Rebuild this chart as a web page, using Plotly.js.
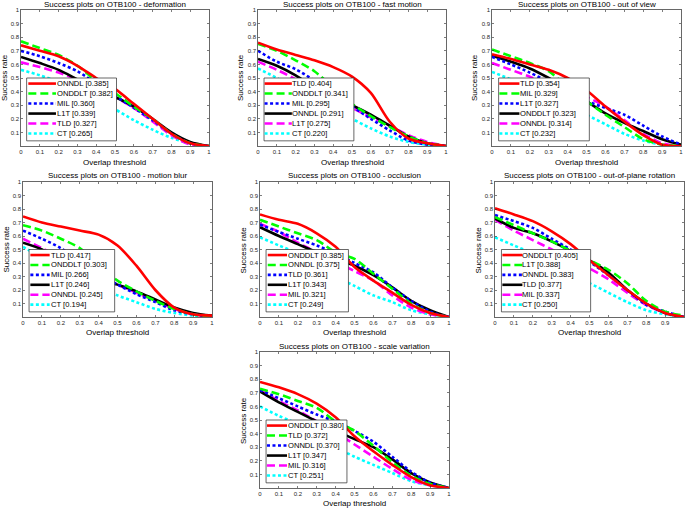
<!DOCTYPE html>
<html>
<head>
<meta charset="utf-8">
<script src="https://cdn.plot.ly/plotly-3.0.1.min.js"></script>
<style>
  html, body { margin: 0; padding: 0; background: #fff; }
  #chart { width: 685px; height: 509px; }
</style>
</head>
<body>
<div id="chart"></div>
<script>
// overlap thresholds (x axis of every panel)
const thresholds = [0, 0.1, 0.2, 0.3, 0.4, 0.5, 0.6, 0.7, 0.8, 0.9, 1];

// deformation
const defNames = ['ONNDL', 'ONDDLT', 'MIL', 'L1T', 'TLD', 'CT'];
const defScores = [0.385, 0.382, 0.360, 0.339, 0.327, 0.265];
const defRates = [
    [0.74, 0.70, 0.66, 0.59, 0.50, 0.42, 0.31, 0.20, 0.09, 0.02, 0.0],
    [0.77, 0.72, 0.67, 0.59, 0.48, 0.39, 0.29, 0.20, 0.09, 0.02, 0.0],
    [0.70, 0.66, 0.61, 0.55, 0.46, 0.37, 0.28, 0.19, 0.09, 0.02, 0.0],
    [0.655, 0.61, 0.56, 0.49, 0.42, 0.36, 0.29, 0.20, 0.10, 0.03, 0.0],
    [0.615, 0.58, 0.54, 0.49, 0.42, 0.36, 0.28, 0.18, 0.08, 0.01, 0.0],
    [0.56, 0.52, 0.47, 0.41, 0.33, 0.27, 0.19, 0.12, 0.06, 0.02, 0.0]
];

// fast motion
const fmNames = ['TLD', 'ONDDLT', 'MIL', 'ONNDL', 'L1T', 'CT'];
const fmScores = [0.404, 0.341, 0.295, 0.291, 0.275, 0.220];
const fmRates = [
    [0.76, 0.71, 0.67, 0.63, 0.58, 0.51, 0.39, 0.18, 0.055, 0.02, 0.0],
    [0.75, 0.70, 0.63, 0.55, 0.43, 0.31, 0.22, 0.14, 0.07, 0.02, 0.0],
    [0.70, 0.62, 0.565, 0.48, 0.37, 0.29, 0.20, 0.115, 0.04, 0.01, 0.0],
    [0.64, 0.59, 0.52, 0.43, 0.36, 0.30, 0.23, 0.15, 0.07, 0.02, 0.0],
    [0.62, 0.56, 0.49, 0.40, 0.33, 0.28, 0.21, 0.15, 0.08, 0.03, 0.0],
    [0.57, 0.50, 0.42, 0.34, 0.27, 0.20, 0.13, 0.07, 0.03, 0.01, 0.0]
];

// out of view
const ovNames = ['TLD', 'MIL', 'L1T', 'ONDDLT', 'ONNDL', 'CT'];
const ovScores = [0.354, 0.329, 0.327, 0.323, 0.314, 0.232];
const ovRates = [
    [0.675, 0.64, 0.60, 0.56, 0.50, 0.41, 0.29, 0.18, 0.08, 0.01, 0.0],
    [0.71, 0.66, 0.61, 0.55, 0.43, 0.33, 0.23, 0.14, 0.05, 0.01, 0.0],
    [0.655, 0.60, 0.54, 0.47, 0.39, 0.33, 0.28, 0.23, 0.15, 0.07, 0.01],
    [0.665, 0.62, 0.57, 0.50, 0.42, 0.33, 0.24, 0.17, 0.11, 0.05, 0.01],
    [0.61, 0.56, 0.51, 0.45, 0.40, 0.36, 0.29, 0.19, 0.09, 0.02, 0.0],
    [0.545, 0.49, 0.43, 0.37, 0.30, 0.23, 0.16, 0.09, 0.04, 0.01, 0.0]
];

// motion blur
const mbNames = ['TLD', 'ONDDLT', 'MIL', 'L1T', 'ONNDL', 'CT'];
const mbScores = [0.417, 0.303, 0.266, 0.246, 0.245, 0.194];
const mbRates = [
    [0.745, 0.70, 0.67, 0.64, 0.61, 0.53, 0.38, 0.20, 0.07, 0.02, 0.01],
    [0.68, 0.64, 0.58, 0.51, 0.38, 0.27, 0.19, 0.12, 0.06, 0.02, 0.0],
    [0.64, 0.58, 0.51, 0.41, 0.32, 0.24, 0.17, 0.11, 0.05, 0.02, 0.0],
    [0.55, 0.50, 0.42, 0.35, 0.29, 0.24, 0.19, 0.13, 0.07, 0.03, 0.01],
    [0.58, 0.51, 0.44, 0.37, 0.30, 0.24, 0.18, 0.12, 0.06, 0.02, 0.0],
    [0.52, 0.44, 0.36, 0.29, 0.22, 0.16, 0.11, 0.06, 0.03, 0.01, 0.0]
];

// occlusion
const ocNames = ['ONDDLT', 'ONNDL', 'TLD', 'L1T', 'MIL', 'CT'];
const ocScores = [0.385, 0.375, 0.361, 0.343, 0.321, 0.249];
const ocRates = [
    [0.76, 0.72, 0.69, 0.62, 0.52, 0.37, 0.27, 0.18, 0.09, 0.03, 0.0],
    [0.72, 0.67, 0.62, 0.57, 0.48, 0.43, 0.32, 0.21, 0.10, 0.03, 0.0],
    [0.685, 0.63, 0.58, 0.53, 0.47, 0.40, 0.33, 0.22, 0.12, 0.04, 0.0],
    [0.665, 0.60, 0.54, 0.48, 0.43, 0.38, 0.31, 0.22, 0.12, 0.05, 0.0],
    [0.69, 0.63, 0.55, 0.48, 0.41, 0.34, 0.27, 0.16, 0.07, 0.02, 0.0],
    [0.59, 0.53, 0.47, 0.38, 0.30, 0.23, 0.16, 0.11, 0.05, 0.02, 0.0]
];

// out-of-plane rotation
const opNames = ['ONDDLT', 'L1T', 'ONNDL', 'TLD', 'MIL', 'CT'];
const opScores = [0.405, 0.388, 0.383, 0.377, 0.337, 0.250];
const opRates = [
    [0.805, 0.76, 0.71, 0.635, 0.54, 0.42, 0.31, 0.20, 0.10, 0.03, 0.0],
    [0.74, 0.68, 0.62, 0.56, 0.49, 0.42, 0.35, 0.25, 0.12, 0.04, 0.01],
    [0.755, 0.71, 0.66, 0.58, 0.50, 0.41, 0.31, 0.20, 0.09, 0.04, 0.0],
    [0.73, 0.66, 0.62, 0.56, 0.49, 0.42, 0.33, 0.20, 0.10, 0.03, 0.0],
    [0.72, 0.64, 0.57, 0.50, 0.43, 0.36, 0.28, 0.18, 0.09, 0.03, 0.0],
    [0.59, 0.53, 0.47, 0.39, 0.31, 0.25, 0.18, 0.11, 0.05, 0.02, 0.0]
];

// scale variation
const svNames = ['ONDDLT', 'TLD', 'ONNDL', 'L1T', 'MIL', 'CT'];
const svScores = [0.380, 0.372, 0.370, 0.347, 0.316, 0.251];
const svRates = [
    [0.78, 0.74, 0.69, 0.62, 0.52, 0.38, 0.27, 0.17, 0.08, 0.02, 0.0],
    [0.73, 0.69, 0.64, 0.59, 0.49, 0.42, 0.31, 0.19, 0.09, 0.03, 0.0],
    [0.72, 0.66, 0.60, 0.54, 0.49, 0.42, 0.34, 0.23, 0.12, 0.04, 0.0],
    [0.71, 0.63, 0.56, 0.49, 0.42, 0.36, 0.30, 0.21, 0.11, 0.04, 0.0],
    [0.72, 0.64, 0.57, 0.49, 0.41, 0.32, 0.23, 0.14, 0.06, 0.02, 0.0],
    [0.60, 0.53, 0.47, 0.38, 0.30, 0.23, 0.17, 0.11, 0.05, 0.02, 0.0]
];

const xTicks = [0, 0.1, 0.2, 0.3, 0.4, 0.5, 0.6, 0.7, 0.8, 0.9, 1];
const xTickText = ['0', '0.1', '0.2', '0.3', '0.4', '0.5', '0.6', '0.7', '0.8', '0.9', '1'];
const yTicks = [0.1, 0.2, 0.3, 0.4, 0.5, 0.6, 0.7, 0.8, 0.9, 1];
const yTickText = ['0.1', '0.2', '0.3', '0.4', '0.5', '0.6', '0.7', '0.8', '0.9', '1'];

// style per rank (matlab defaults)
const rankColors = ['#ff0000', '#00ff00', '#0000ff', '#000000', '#ff00ff', '#00ffff'];
const rankDash = ['solid', '8px,4px', '3px,2.5px', 'solid', '8px,4px', '3px,2.5px'];

const W = 685, H = 509;
const FONT = 'Liberation Sans, Arial, Helvetica, sans-serif';

// pixel boxes of the axes: [left, right, top, bottom], legend x: [boxL, boxR, lineL, lineR, textL],
// title y, xlabel y, ylabel x
const panels = [
    { name: 'deformation', names: defNames, scores: defScores, rates: defRates,
      box: [21, 209, 10, 146], leg: [0.030, 0.508, 0.039, 0.186, 0.19], ty: 4.5, xly: 162, ylx: 4 },
    { name: 'fast motion', names: fmNames, scores: fmScores, rates: fmRates,
      box: [258, 446, 10, 146], leg: [0.032, 0.51, 0.035, 0.18, 0.183], ty: 4.5, xly: 162, ylx: 240 },
    { name: 'out of view', names: ovNames, scores: ovScores, rates: ovRates,
      box: [492, 681, 10, 146], leg: [0.035, 0.515, 0.039, 0.145, 0.146], ty: 4.5, xly: 162, ylx: 474 },
    { name: 'motion blur', names: mbNames, scores: mbScores, rates: mbRates,
      box: [23, 212, 182, 317], leg: [0.032, 0.485, 0.039, 0.141, 0.146], ty: 175, xly: 332.5, ylx: 6 },
    { name: 'occlusion', names: ocNames, scores: ocScores, rates: ocRates,
      box: [260, 449, 182, 317], leg: [0.032, 0.468, 0.041, 0.143, 0.146], ty: 175, xly: 332.5, ylx: 243 },
    { name: 'out-of-plane rotation', names: opNames, scores: opScores, rates: opRates,
      box: [495, 684, 182, 317], leg: [0.034, 0.506, 0.039, 0.145, 0.145], ty: 175, xly: 332.5, ylx: 478 },
    { name: 'scale variation', names: svNames, scores: svScores, rates: svRates,
      box: [260, 449, 352, 488], leg: [0.032, 0.46, 0.037, 0.143, 0.146], ty: 346, xly: 503.5, ylx: 243 }
];

const legTop = 0.50, legBottom = 0.038, legFirst = 0.459, legStep = 0.0735;

const traces = [];
const shapes = [];
const annotations = [];
const layout = {
    width: W, height: H,
    margin: { l: 0, r: 0, t: 0, b: 0 },
    paper_bgcolor: '#fff', plot_bgcolor: '#fff',
    showlegend: false,
    font: { family: FONT, color: '#000' }
};

panels.forEach((p, i) => {
    const sfx = i === 0 ? '' : String(i + 1);
    const xa = 'x' + sfx, ya = 'y' + sfx;
    const [l, r, t, b] = p.box;

    layout['xaxis' + sfx] = {
        domain: [l / W, r / W], anchor: ya, range: [0, 1],
        tickvals: xTicks, ticktext: xTickText, ticks: 'inside', ticklen: 2,
        tickcolor: '#262626', tickwidth: 0.6, showline: true, mirror: 'ticks',
        linecolor: '#262626', linewidth: 0.7, showgrid: false, zeroline: false,
        tickfont: { size: 6, color: '#262626' }, fixedrange: true
    };
    layout['yaxis' + sfx] = {
        domain: [1 - b / H, 1 - t / H], anchor: xa, range: [0, 1],
        tickvals: yTicks, ticktext: yTickText, ticks: 'inside', ticklen: 2,
        tickcolor: '#262626', tickwidth: 0.6, showline: true, mirror: 'ticks',
        linecolor: '#262626', linewidth: 0.7, showgrid: false, zeroline: false,
        tickfont: { size: 6, color: '#262626' }, fixedrange: true
    };

    // curves, rank 1 drawn last so it sits on top
    for (let j = p.names.length - 1; j >= 0; j--) {
        traces.push({
            x: thresholds, y: p.rates[j], xaxis: xa, yaxis: ya,
            type: 'scatter', mode: 'lines',
            name: `${p.names[j]} [${p.scores[j].toFixed(3)}]`,
            line: { color: rankColors[j], width: 2.6, dash: rankDash[j], shape: 'spline', smoothing: 0.8 },
            hoverinfo: 'name'
        });
    }

    // titles
    annotations.push({
        xref: 'paper', yref: 'paper', x: (l + r) / 2 / W, y: 1 - p.ty / H,
        xanchor: 'center', yanchor: 'middle', showarrow: false,
        text: 'Success plots on OTB100 - ' + p.name, font: { size: 8, color: '#000' }
    });
    annotations.push({
        xref: 'paper', yref: 'paper', x: (l + r) / 2 / W, y: 1 - p.xly / H,
        xanchor: 'center', yanchor: 'middle', showarrow: false, borderpad: 0,
        text: 'Overlap threshold', font: { size: 8, color: '#000' }
    });
    annotations.push({
        xref: 'paper', yref: 'paper', x: p.ylx / W, y: 1 - (t + b) / 2 / H,
        xanchor: 'center', yanchor: 'middle', showarrow: false, textangle: -90,
        text: 'Success rate', font: { size: 8, color: '#000' }
    });

    // matlab style legend box
    const [bl, br, ll, lr, tl] = p.leg;
    shapes.push({
        type: 'rect', xref: xa, yref: ya, x0: bl, x1: br, y0: legBottom, y1: legTop,
        fillcolor: '#fff', line: { color: '#262626', width: 0.7 }, layer: 'above'
    });
    p.names.forEach((n, j) => {
        const yc = legFirst - j * legStep;
        shapes.push({
            type: 'line', xref: xa, yref: ya, x0: ll, x1: lr, y0: yc, y1: yc,
            line: { color: rankColors[j], width: 2.6, dash: rankDash[j] }, layer: 'above'
        });
        annotations.push({
            xref: xa, yref: ya, x: tl, y: yc, xanchor: 'left', yanchor: 'middle',
            showarrow: false, borderpad: 0, borderwidth: 0,
            text: `${n} [${p.scores[j].toFixed(3)}]`,
            font: { size: 7.6, color: '#000' }
        });
    });
});

layout.shapes = shapes;
layout.annotations = annotations;

Plotly.newPlot('chart', traces, layout, { displayModeBar: false, staticPlot: true });
</script>
</body>
</html>
